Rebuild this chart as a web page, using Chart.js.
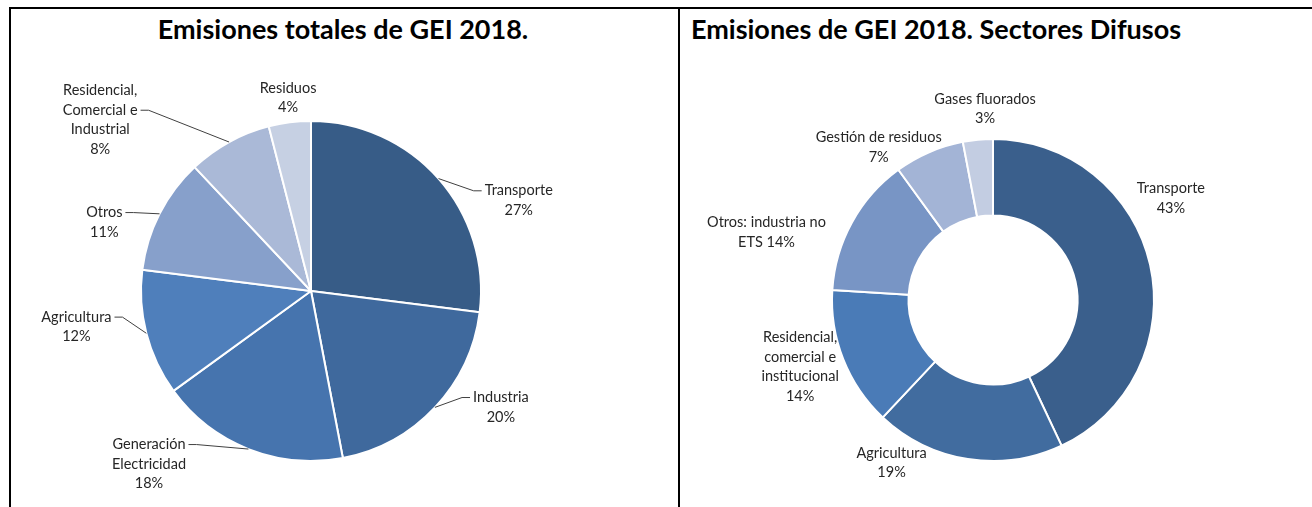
<!DOCTYPE html>
<html>
<head>
<meta charset="utf-8">
<script src="https://cdn.jsdelivr.net/npm/chart.js@4/dist/chart.umd.min.js"></script>
<style>
  html, body { margin: 0; padding: 0; background: #ffffff; }
  body { width: 1312px; height: 507px; position: relative; overflow: hidden; font-family: Lato, "Open Sans", sans-serif; }
  .line { position: absolute; background: #000; }
  .title { position: absolute; font-family: Lato, sans-serif; font-weight: bold; font-size: 27px; color: #000; white-space: nowrap; transform: translate(-50%, -50%); }
  canvas { position: absolute; }
</style>
</head>
<body>
<div class="line" style="left:9px; top:7px; width:1303px; height:2px;"></div>
<div class="line" style="left:9px; top:7px; width:2px; height:500px;"></div>
<div class="line" style="left:678px; top:7px; width:2px; height:500px;"></div>
<div class="title" id="t1" style="left:343px; top:28px;"></div>
<div class="title" id="t2" style="left:936px; top:28px;"></div>
<canvas id="c1" width="667" height="498" style="left:11px; top:9px;"></canvas>
<canvas id="c2" width="632" height="498" style="left:680px; top:9px;"></canvas>
<script>
// ---- data ----
const leftTitle = 'Emisiones totales de GEI 2018.';
const leftCategories = ['Transporte', 'Industria', 'Generación Electricidad', 'Agricultura', 'Otros', 'Residencial, Comercial e Industrial', 'Residuos'];
const leftValues = [27, 20, 18, 12, 11, 8, 4];
const leftLabelLines = [['Transporte'], ['Industria'], ['Generación', 'Electricidad'], ['Agricultura'], ['Otros'], ['Residencial,', 'Comercial e', 'Industrial'], ['Residuos']];

const rightTitle = 'Emisiones de GEI 2018. Sectores Difusos';
const rightCategories = ['Transporte', 'Agricultura', 'Residencial, comercial e institucional', 'Otros: industria no ETS', 'Gestión de residuos', 'Gases fluorados'];
const rightValues = [43, 19, 14, 14, 7, 3];
const rightLabelLines = [['Transporte'], ['Agricultura'], ['Residencial,', 'comercial e', 'institucional'], ['Otros: industria no', 'ETS'], ['Gestión de residuos'], ['Gases fluorados']];
const rightPctInline = [false, false, false, true, false, false];

// ---- styles ----
const leftColors = ['#375C87', '#3F699D', '#4674AE', '#4F7FBB', '#87A0CB', '#AAB9D7', '#C6D0E3'];
const rightColors = ['#3A5F8C', '#416C9F', '#4A7BB7', '#7895C5', '#A3B4D6', '#C3CDE2'];
// label block centres relative to the pie centre, as fractions of the radius
const leftLabelPos = [[1.222, -0.532], [1.117, 0.684], [-0.953, 1.018], [-1.380, 0.211], [-1.216, -0.404], [-1.240, -1.006], [-0.135, -1.135]];
const leftLeaders = [0, 0, 0, 0, 0, 1, null];
const rightLabelPos = [[1.105, -0.630], [-0.630, 1.012], [-1.198, 0.414], [-1.407, -0.420], [-0.710, -0.948], [-0.049, -1.188]];
const rightLeaders = [null, null, null, null, null, null];

document.getElementById('t1').textContent = leftTitle;
document.getElementById('t2').textContent = rightTitle;

function buildLines(nameLines, values, inline) {
  return nameLines.map((ls, i) => {
    const out = ls.slice();
    const pct = values[i] + '%';
    if (inline && inline[i]) out[out.length - 1] = out[out.length - 1] + ' ' + pct;
    else out.push(pct);
    return out;
  });
}

const sliceLabels = {
  id: 'sliceLabels',
  afterDatasetsDraw(chart, args, opts) {
    const ctx = chart.ctx;
    const meta = chart.getDatasetMeta(0);
    ctx.save();
    ctx.font = opts.font;
    ctx.fillStyle = opts.color;
    ctx.textAlign = 'center';
    ctx.textBaseline = 'middle';
    meta.data.forEach((arc, i) => {
      const p = arc.getProps(['x', 'y', 'outerRadius', 'startAngle', 'endAngle'], true);
      const lines = opts.lines[i];
      const pos = opts.positions[i];
      const cx = p.x + pos[0] * p.outerRadius;
      const cy = p.y + pos[1] * p.outerRadius;
      const lh = opts.lineHeight;
      const top = cy - (lines.length - 1) * lh / 2;
      lines.forEach((t, k) => ctx.fillText(t, cx, top + k * lh));
      const li = opts.leaders[i];
      if (li !== null && li !== undefined) {
        const mid = (p.startAngle + p.endAngle) / 2;
        const ex = p.x + Math.cos(mid) * p.outerRadius;
        const ey = p.y + Math.sin(mid) * p.outerRadius;
        const ly = top + li * lh;
        const w = ctx.measureText(lines[li]).width;
        const dir = ex < cx ? -1 : 1;
        const sx = cx + dir * (w / 2 + 3);
        ctx.beginPath();
        ctx.moveTo(sx, ly);
        ctx.lineTo(sx + dir * 8, ly);
        ctx.lineTo(ex, ey);
        ctx.strokeStyle = '#404040';
        ctx.lineWidth = 1;
        ctx.stroke();
      }
    });
    ctx.restore();
  }
};

function makeChart(id, cats, vals, colors, cutout, padding, lines, positions, leaders) {
  return new Chart(document.getElementById(id), {
    type: cutout ? 'doughnut' : 'pie',
    data: {
      labels: cats,
      datasets: [{ data: vals, backgroundColor: colors, borderColor: '#ffffff', borderWidth: 2 }]
    },
    options: {
      responsive: false,
      animation: false,
      cutout: cutout,
      layout: { padding: padding },
      plugins: {
        legend: { display: false },
        tooltip: { enabled: false },
        sliceLabels: { font: '14.5px Lato', color: '#262626', lineHeight: 19.5, lines: lines, positions: positions, leaders: leaders }
      }
    },
    plugins: [sliceLabels]
  });
}

makeChart('c1', leftCategories, leftValues, leftColors, 0,
  { left: 129, right: 196, top: 111, bottom: 45 },
  buildLines(leftLabelLines, leftValues, null), leftLabelPos, leftLeaders);
makeChart('c2', rightCategories, rightValues, rightColors, '52.5%',
  { left: 151, right: 157, top: 129, bottom: 45 },
  buildLines(rightLabelLines, rightValues, rightPctInline), rightLabelPos, rightLeaders);
</script>
</body>
</html>
